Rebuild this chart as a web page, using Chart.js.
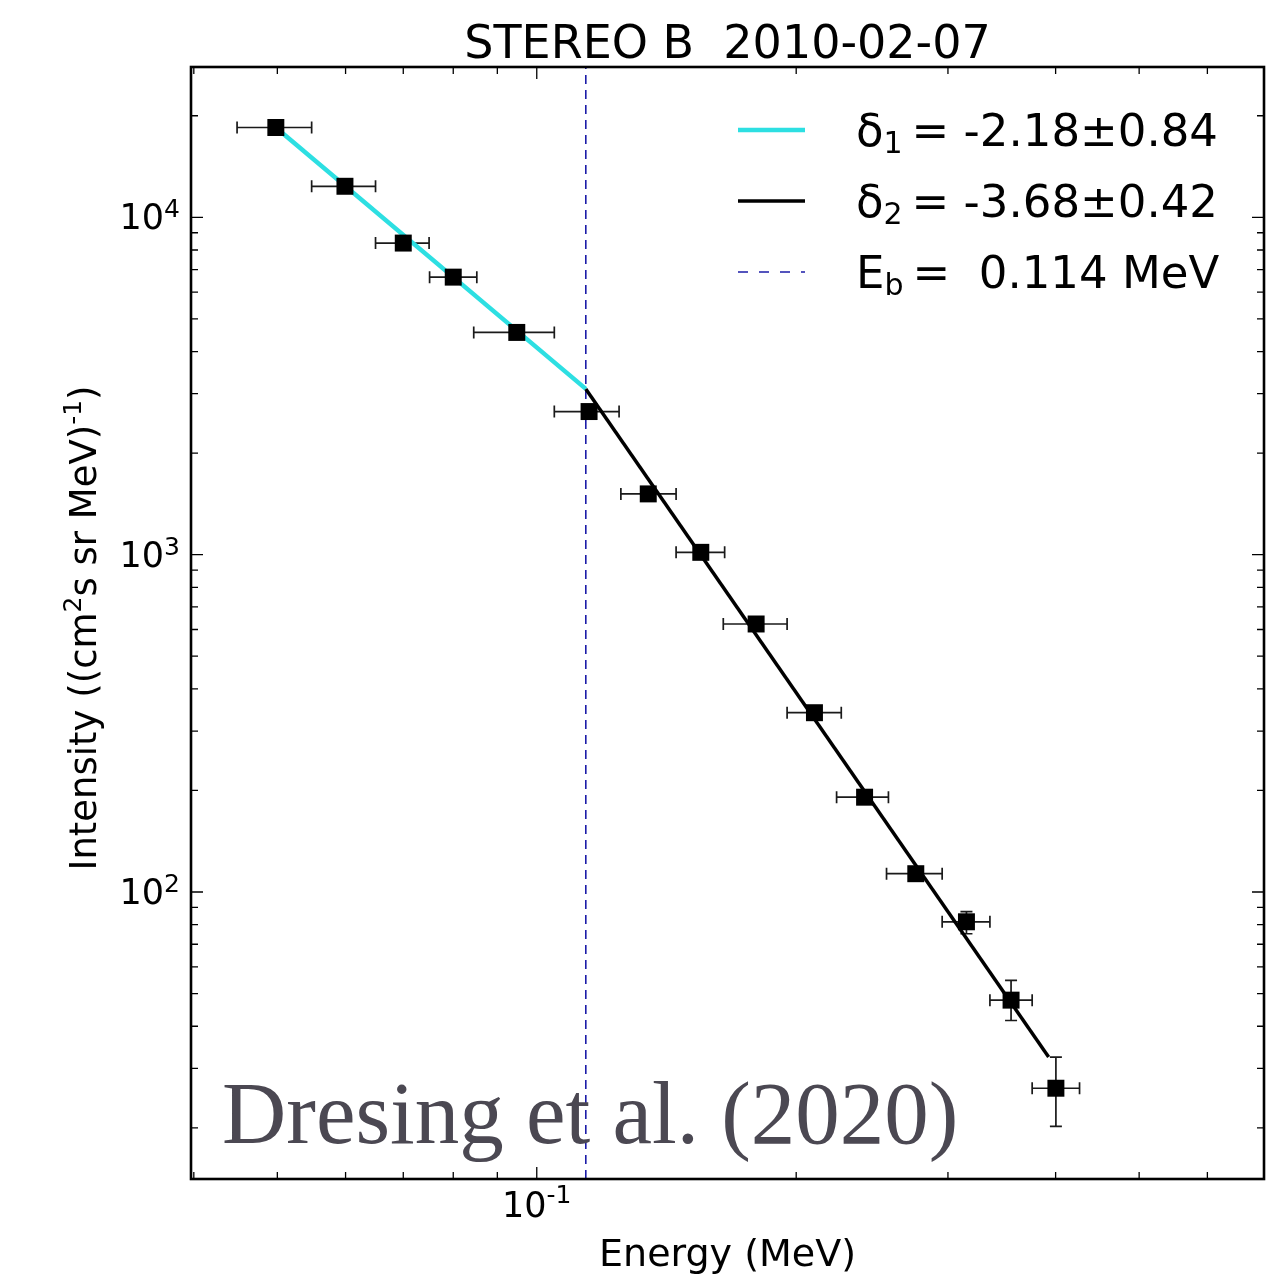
<!DOCTYPE html>
<html>
<head>
<meta charset="utf-8">
<script src="https://cdn.jsdelivr.net/npm/chart.js@4.4.1/dist/chart.umd.min.js"></script>
<style>
  html, body { margin: 0; padding: 0; background: #fff; overflow: hidden; }
  #wrap { width: 1276px; height: 1277px; position: relative; }
</style>
</head>
<body>
<div id="wrap"><canvas id="grafico"></canvas></div>
<script>
// valores
const energias     = [0.0498, 0.0599, 0.0700, 0.0800, 0.0948, 0.1150, 0.1347, 0.1550, 0.1797, 0.2100, 0.2401, 0.2753, 0.3152, 0.3551, 0.4003];
const energiaMin   = [0.0449, 0.0548, 0.0650, 0.0751, 0.0845, 0.1048, 0.1252, 0.1451, 0.1646, 0.1952, 0.2228, 0.2546, 0.2954, 0.3356, 0.3757];
const energiaMax   = [0.0548, 0.0650, 0.0750, 0.0852, 0.1048, 0.1246, 0.1451, 0.1652, 0.1952, 0.2256, 0.2559, 0.2954, 0.3356, 0.3757, 0.4264];
const intensidades = [18460, 12360, 8388, 6648, 4558, 2656, 1514, 1016, 623, 340, 191, 113.3, 81.6, 47.8, 26.2];
const intensMin    = [18000, 12050, 8200, 6500, 4450, 2600, 1480, 995, 610, 333, 187, 108, 75.2, 41.6, 20.2];
const intensMax    = [18900, 12700, 8580, 6800, 4670, 2720, 1550, 1040, 636, 348, 196, 118, 87.5, 54.7, 32.4];

// ajustes (pontos extremos das retas)
const ajuste1 = [{ x: 0.0498, y: 18460 }, { x: 0.114, y: 3100 }];
const ajuste2 = [{ x: 0.114, y: 3100 }, { x: 0.3926, y: 32.4 }];
const energiaQuebra = 0.114;

const xMin = 0.0397, xMax = 0.698;
const yMin = 14.1, yMax = 27900;

const xTicksMaiores = [0.1];
const xTicksMenores = [0.04, 0.05, 0.06, 0.07, 0.08, 0.09, 0.2, 0.3, 0.4, 0.5, 0.6];
const yTicksMaiores = [100, 1000, 10000];
const yTicksMenores = [20, 30, 40, 50, 60, 70, 80, 90, 200, 300, 400, 500, 600, 700, 800, 900,
                       2000, 3000, 4000, 5000, 6000, 7000, 8000, 9000, 20000];
const xRotulos = [{ v: 0.1, base: '10', exp: '-1' }];
const yRotulos = [{ v: 100, base: '10', exp: '2' }, { v: 1000, base: '10', exp: '3' }, { v: 10000, base: '10', exp: '4' }];

const titulo = 'STEREO B  2010-02-07';
const legendas = [
  { cor: '#2ddfe2', largura: 4.5, traco: [], partes: [['δ', 45, 0], ['1', 30, 7], ['\u2009= -2.18±0.84', 45, 0]] },
  { cor: '#000000', largura: 3.5, traco: [], partes: [['δ', 45, 0], ['2', 30, 7], ['\u2009= -3.68±0.42', 45, 0]] },
  { cor: '#1c1ca8', largura: 1.6, traco: [10, 11], partes: [['E', 45, 0], ['b', 30, 7], ['\u2009=  0.114 MeV', 45, 0]] }
];

const FONTE = '"DejaVu Sans"';

function textoRico(ctx, partes, x, y, alinhar) {
  let largura = 0;
  partes.forEach(p => { ctx.font = p[1] + 'px ' + FONTE; largura += ctx.measureText(p[0]).width; });
  let cx = x;
  if (alinhar === 'center') cx = x - largura / 2;
  if (alinhar === 'right') cx = x - largura;
  ctx.textAlign = 'left';
  ctx.textBaseline = 'alphabetic';
  partes.forEach(p => {
    ctx.font = p[1] + 'px ' + FONTE;
    ctx.fillText(p[0], cx, y + p[2]);
    cx += ctx.measureText(p[0]).width;
  });
}

const barrasErro = {
  id: 'barrasErro',
  beforeDatasetsDraw(chart) {
    const ctx = chart.ctx, sx = chart.scales.x, sy = chart.scales.y;
    ctx.save();
    ctx.strokeStyle = '#1a1a1a';
    ctx.lineWidth = 1.7;
    const cap = 6;
    energias.forEach((e, i) => {
      const px = sx.getPixelForValue(e), py = sy.getPixelForValue(intensidades[i]);
      const x0 = sx.getPixelForValue(energiaMin[i]), x1 = sx.getPixelForValue(energiaMax[i]);
      const y0 = sy.getPixelForValue(intensMin[i]), y1 = sy.getPixelForValue(intensMax[i]);
      ctx.beginPath();
      ctx.moveTo(x0, py); ctx.lineTo(x1, py);
      ctx.moveTo(x0, py - cap); ctx.lineTo(x0, py + cap);
      ctx.moveTo(x1, py - cap); ctx.lineTo(x1, py + cap);
      ctx.moveTo(px, y0); ctx.lineTo(px, y1);
      ctx.moveTo(px - cap, y0); ctx.lineTo(px + cap, y0);
      ctx.moveTo(px - cap, y1); ctx.lineTo(px + cap, y1);
      ctx.stroke();
    });
    ctx.restore();
  }
};

const moldura = {
  id: 'moldura',
  afterDraw(chart) {
    const ctx = chart.ctx, a = chart.chartArea, sx = chart.scales.x, sy = chart.scales.y;
    ctx.save();
    ctx.strokeStyle = '#000';
    ctx.fillStyle = '#000';

    // ticks para dentro nos quatro lados
    ctx.lineWidth = 1.3;
    ctx.beginPath();
    const tickX = (v, len) => {
      const p = sx.getPixelForValue(v);
      ctx.moveTo(p, a.bottom); ctx.lineTo(p, a.bottom - len);
      ctx.moveTo(p, a.top); ctx.lineTo(p, a.top + len);
    };
    const tickY = (v, len) => {
      const p = sy.getPixelForValue(v);
      ctx.moveTo(a.left, p); ctx.lineTo(a.left + len, p);
      ctx.moveTo(a.right, p); ctx.lineTo(a.right - len, p);
    };
    xTicksMaiores.forEach(v => tickX(v, 12));
    xTicksMenores.forEach(v => tickX(v, 7));
    yTicksMaiores.forEach(v => tickY(v, 12));
    yTicksMenores.forEach(v => tickY(v, 7));
    ctx.stroke();

    ctx.lineWidth = 2.6;
    ctx.strokeRect(a.left, a.top, a.right - a.left, a.bottom - a.top);

    // rótulos dos ticks
    yRotulos.forEach(r => {
      const p = sy.getPixelForValue(r.v);
      textoRico(ctx, [[r.base, 35, 0], [r.exp, 25, -12]], 180, p + 12, 'right');
    });
    xRotulos.forEach(r => {
      const p = sx.getPixelForValue(r.v);
      textoRico(ctx, [[r.base, 35, 0], [r.exp, 25, -14]], p, 1217, 'center');
    });

    // títulos
    textoRico(ctx, [[titulo, 46, 0]], (a.left + a.right) / 2, 58, 'center');
    textoRico(ctx, [['Energy (MeV)', 38, 0]], (a.left + a.right) / 2, 1266, 'center');
    ctx.save();
    ctx.translate(96, 628);
    ctx.rotate(-Math.PI / 2);
    textoRico(ctx, [['Intensity ((cm', 37, 0], ['2', 25, -15], ['s sr MeV)', 37, 0], ['-1', 25, -15], [')', 37, 0]], 0, 0, 'center');
    ctx.restore();

    // legenda
    legendas.forEach((l, i) => {
      const y = 130 + i * 71;
      ctx.save();
      ctx.strokeStyle = l.cor;
      ctx.lineWidth = l.largura;
      ctx.setLineDash(l.traco);
      ctx.beginPath();
      ctx.moveTo(738, y); ctx.lineTo(805, y);
      ctx.stroke();
      ctx.restore();
      textoRico(ctx, l.partes, 856, y + 16, 'left');
    });

    // crédito
    ctx.fillStyle = '#4b4852';
    ctx.font = '89px "Liberation Serif"';
    ctx.textAlign = 'left';
    ctx.textBaseline = 'alphabetic';
    ctx.fillText('Dresing et al. (2020)', 222, 1143);
    ctx.restore();
  }
};

const ctx = document.getElementById('grafico').getContext('2d');
new Chart(ctx, {
  type: 'scatter',
  data: {
    datasets: [
      {
        label: 'dados',
        data: energias.map((e, i) => ({ x: e, y: intensidades[i] })),
        pointStyle: 'rect',
        pointRadius: 12,
        pointHoverRadius: 12,
        backgroundColor: '#000',
        borderColor: '#000',
        borderWidth: 0,
        showLine: false,
        order: 0
      },
      {
        label: 'ajuste 2',
        data: ajuste2,
        showLine: true,
        borderColor: '#000',
        borderWidth: 3.5,
        pointRadius: 0,
        order: 1
      },
      {
        label: 'ajuste 1',
        data: ajuste1,
        showLine: true,
        borderColor: '#2ddfe2',
        borderWidth: 4.5,
        pointRadius: 0,
        order: 2
      },
      {
        label: 'quebra',
        data: [{ x: energiaQuebra, y: yMin }, { x: energiaQuebra, y: yMax }],
        showLine: true,
        borderColor: '#1c1ca8',
        borderWidth: 1.6,
        borderDash: [9, 6],
        pointRadius: 0,
        order: 3
      }
    ]
  },
  options: {
    responsive: true,
    maintainAspectRatio: false,
    devicePixelRatio: 1,
    animation: false,
    layout: { padding: { top: 67, right: 0, left: 0, bottom: 0 } },
    plugins: { legend: { display: false }, tooltip: { enabled: false } },
    scales: {
      x: {
        type: 'logarithmic', min: xMin, max: xMax,
        ticks: { display: false }, grid: { display: false }, border: { display: false },
        afterFit: s => { s.height = 98; }
      },
      y: {
        type: 'logarithmic', min: yMin, max: yMax,
        ticks: { display: false }, grid: { display: false }, border: { display: false },
        afterFit: s => { s.width = 191; }
      }
    }
  },
  plugins: [barrasErro, moldura]
});
</script>
</body>
</html>
